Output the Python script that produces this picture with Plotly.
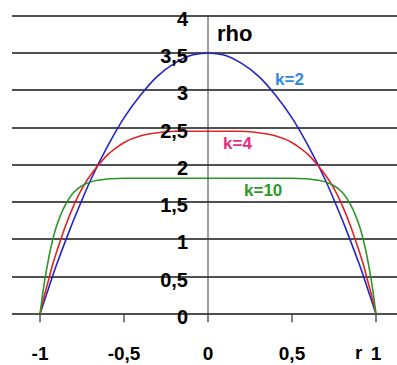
import plotly.graph_objects as go

# radius values (shared by all three curves)
r = [-1, -0.975, -0.95, -0.925, -0.9, -0.85, -0.8, -0.75, -0.7, -0.6, -0.5, -0.4, -0.3, -0.2, -0.1,
     0, 0.1, 0.2, 0.3, 0.4, 0.5, 0.6, 0.7, 0.75, 0.8, 0.85, 0.9, 0.925, 0.95, 0.975, 1]

# density
rho_k2 = [0, 0.17, 0.34, 0.51, 0.67, 0.97, 1.26, 1.53, 1.79, 2.24, 2.63, 2.94, 3.19, 3.36, 3.47,
          3.5, 3.47, 3.36, 3.19, 2.94, 2.63, 2.24, 1.79, 1.53, 1.26, 0.97, 0.67, 0.51, 0.34, 0.17, 0]
rho_k4 = [0, 0.24, 0.45, 0.66, 0.84, 1.17, 1.45, 1.68, 1.86, 2.13, 2.30, 2.39, 2.43, 2.45, 2.45,
          2.45, 2.45, 2.45, 2.43, 2.39, 2.30, 2.13, 1.86, 1.68, 1.45, 1.17, 0.84, 0.66, 0.45, 0.24, 0]
rho_k10 = [0, 0.41, 0.73, 0.99, 1.19, 1.46, 1.63, 1.72, 1.77, 1.81, 1.82, 1.82, 1.82, 1.82, 1.82,
           1.82, 1.82, 1.82, 1.82, 1.82, 1.82, 1.81, 1.77, 1.72, 1.63, 1.46, 1.19, 0.99, 0.73, 0.41, 0]

y_ticks = [0, 0.5, 1, 1.5, 2, 2.5, 3, 3.5, 4]
y_labels = ["0", "0,5", "1", "1,5", "2", "2,5", "3", "3,5", "4"]
x_ticks = [-1, -0.5, 0, 0.5, 1]
x_labels = ["-1", "-0,5", "0", "0,5", "1"]

FONT = "Liberation Sans, Arial, sans-serif"
GRID = "#505050"

fig = go.Figure()

series = [
    (rho_k2, "#2424c8"),
    (rho_k4, "#e02424"),
    (rho_k10, "#2a962a"),
]
for vals, col in series:
    fig.add_trace(go.Scatter(
        x=r, y=vals, mode="lines",
        line=dict(color=col, width=1.6, shape="spline", smoothing=0.6),
        showlegend=False, hoverinfo="skip",
    ))

# small tick marks hanging below the r axis
tick_x, tick_y = [], []
for t in x_ticks:
    tick_x += [t, t, None]
    tick_y += [0, -0.11, None]
fig.add_trace(go.Scatter(
    x=tick_x, y=tick_y, mode="lines",
    line=dict(color="#3c3c3c", width=1.3),
    showlegend=False, hoverinfo="skip",
))

# vertical axis line from 0 to 4
fig.add_shape(type="line", x0=0, x1=0, y0=0, y1=4, xref="x", yref="y",
              line=dict(color="#3c3c3c", width=1))

labels = [
    ("rho", 0.155, 3.76, "black", 22),
    ("k=2", 0.488, 3.14, "#2e8ae0", 17),
    ("k=4", 0.176, 2.28, "#e0307f", 17),
    ("k=10", 0.327, 1.66, "#2e9a2e", 17),
]
for txt, lx, ly, col, sz in labels:
    fig.add_annotation(x=lx, y=ly, text=txt, showarrow=False,
                       font=dict(family=FONT, size=sz, color=col, weight="bold"))

# axis name sitting next to the last tick label
fig.add_annotation(x=0.9, y=-0.36, yanchor="top", text="r", showarrow=False,
                   borderpad=0,
                   font=dict(family=FONT, size=19, color="black", weight="bold"))

fig.update_layout(
    width=397, height=365,
    margin=dict(l=12, r=0, t=0, b=0),
    plot_bgcolor="white", paper_bgcolor="white",
    xaxis=dict(
        range=[-1.1667, 1.125], anchor="free", position=0.1397,
        showgrid=False, zeroline=False, showline=False,
        tickvals=x_ticks, ticktext=x_labels, ticks="",
        ticklabelstandoff=26,
        tickfont=dict(family=FONT, size=19, color="black", weight="bold"),
    ),
    yaxis=dict(
        range=[-0.684, 4.21], anchor="free", position=0.5091,
        showgrid=True, gridcolor=GRID, gridwidth=1.5,
        zeroline=False, showline=False,
        tickvals=y_ticks, ticktext=y_labels, ticks="",
        ticklabelstandoff=20, ticklabelshift=3,
        tickfont=dict(family=FONT, size=20, color="black", weight="bold"),
    ),
)

fig.write_html("out.html", config={"displayModeBar": False},
               post_script="document.body.style.margin='0';")
